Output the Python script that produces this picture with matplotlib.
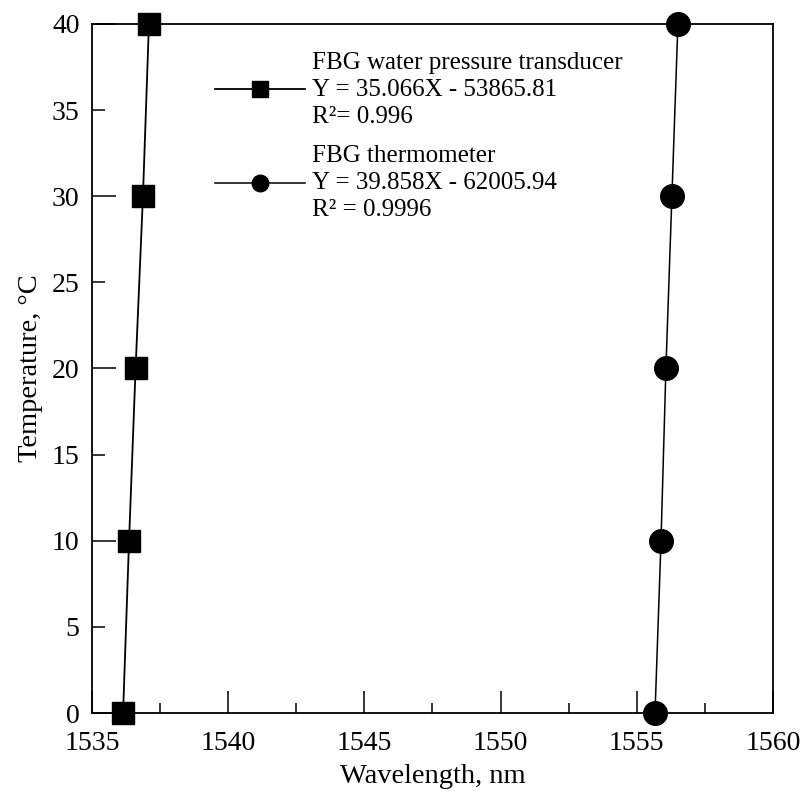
import matplotlib.pyplot as plt
from matplotlib.ticker import MultipleLocator, FormatStrFormatter

# Data
temperature = [0, 10, 20, 30, 40]
wl_transducer = [1536.14, 1536.36, 1536.60, 1536.87, 1537.09]
wl_thermometer = [1555.67, 1555.89, 1556.07, 1556.29, 1556.51]

label_transducer = "FBG water pressure transducer\nY = 35.066X - 53865.81\nR²= 0.996"
label_thermometer = "FBG thermometer\nY = 39.858X - 62005.94\nR² = 0.9996"

plt.rcParams['font.family'] = ['Liberation Serif', 'DejaVu Serif']

fig = plt.figure(figsize=(8.05, 7.91), dpi=100)
ax = fig.add_axes([0.1143, 0.0986, 0.8459, 0.8711])

ax.plot(wl_transducer, temperature, color='black', lw=1.3, marker='s',
        markersize=16, label=label_transducer, clip_on=False, zorder=3)
ax.plot(wl_thermometer, temperature, color='black', lw=1.1, marker='o',
        markersize=17, label=label_thermometer, clip_on=False, zorder=3)

ax.set_xlim(1535, 1560)
ax.set_ylim(0, 40)

# x: labelled every 5, short ticks halfway
ax.xaxis.set_major_locator(MultipleLocator(5))
ax.xaxis.set_minor_locator(MultipleLocator(2.5))
# y: long ticks every 10, short ticks every 5, all labelled
ax.yaxis.set_major_locator(MultipleLocator(10))
ax.yaxis.set_minor_locator(MultipleLocator(5))
ax.yaxis.set_minor_formatter(FormatStrFormatter('%d'))

ax.tick_params(axis='both', which='both', direction='in', width=1.1,
               labelsize=20, colors='black')
ax.tick_params(axis='x', which='major', length=16, pad=13)
ax.tick_params(axis='x', which='minor', length=7, pad=13)
ax.tick_params(axis='y', which='major', length=17, pad=9)
ax.tick_params(axis='y', which='minor', length=9, pad=9)

for s in ax.spines.values():
    s.set_linewidth(1.3)

ax.set_xlabel('Wavelength, nm', fontsize=20.5, labelpad=6)
ax.set_ylabel('Temperature, °C', fontsize=20.5, labelpad=6)

leg = ax.legend(loc='upper left', bbox_to_anchor=(0.18, 0.96),
                frameon=False, fontsize=18, handlelength=3.6,
                handletextpad=0.3, labelspacing=0.7, markerscale=0.7,
                borderaxespad=0, borderpad=0)
for t in leg.get_texts():
    t.set_linespacing(1.3)

fig.savefig('out.png', dpi=100)
